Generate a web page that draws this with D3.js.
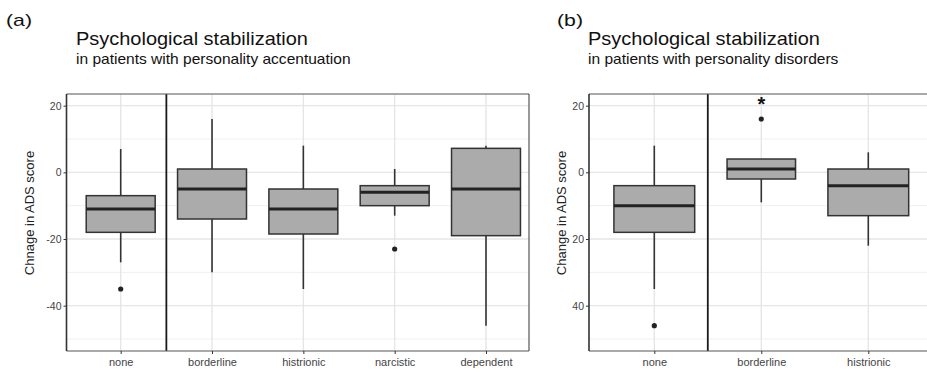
<!DOCTYPE html>
<html>
<head>
<meta charset="utf-8">
<script src="https://cdn.jsdelivr.net/npm/d3@7"></script>
<style>
  html, body { margin: 0; padding: 0; background: #fff; }
  svg { display: block; font-family: "Liberation Sans", Arial, sans-serif; }
</style>
</head>
<body>
<svg id="chart" width="927" height="371"></svg>
<script>
// panel (a): personality accentuation
const catsA = ['none', 'borderline', 'histrionic', 'narcistic', 'dependent'];
const statsA = [
  // [lowerWhisker, q1, median, q3, upperWhisker]
  [-27, -18, -11, -7, 7],
  [-30, -14, -5, 1, 16],
  [-35, -18.5, -11, -5, 8],
  [-13, -10, -6, -4, 1],
  [-46, -19, -5, 7.2, 8]
];
const outliersA = [[-35], [], [], [-23], []];
const tickValsA = [20, 0, -20, -40];
const tickLabelsA = ['20', '0', '-20', '-40'];

// panel (b): personality disorders
const catsB = ['none', 'borderline', 'histrionic'];
const statsB = [
  [-35, -18, -10, -4, 8],
  [-9, -2, 1, 4, 4],
  [-22, -13, -4, 1, 6]
];
const outliersB = [[-46], [16], []];
const tickValsB = [20, 0, -20, -40];
const tickLabelsB = ['20', '0', '20', '40'];   // as printed in the figure
const starB = ['', '*', ''];

const svg = d3.select('#chart');

// stretched text helper (the figure's lettering is wider than Arial)
function wideText(g, x, y, size, sx, txt) {
  return g.append('text')
    .attr('transform', `translate(${x},${y}) scale(${sx},1)`)
    .attr('font-size', size).attr('fill', '#111').text(txt);
}

function drawPanel(o) {
  const g = svg.append('g');
  const y = d3.scaleLinear().domain([-53.6, 23.5]).range([o.bottom, o.top]);
  const x = d3.scalePoint().domain(o.cats).range([o.x0, o.x1]);
  const step = x.step();

  // grid
  const minor = [-50, -30, -10, 10];
  g.selectAll('.minor').data(minor).join('line')
    .attr('x1', o.left).attr('x2', o.right)
    .attr('y1', d => y(d)).attr('y2', d => y(d))
    .attr('stroke', '#f0f0f0').attr('stroke-width', 1);
  g.selectAll('.major').data(o.tickVals).join('line')
    .attr('x1', o.left).attr('x2', o.right)
    .attr('y1', d => y(d)).attr('y2', d => y(d))
    .attr('stroke', '#e6e6e6').attr('stroke-width', 1.4);
  g.selectAll('.vgrid').data(o.cats).join('line')
    .attr('x1', d => x(d)).attr('x2', d => x(d))
    .attr('y1', o.top).attr('y2', o.bottom)
    .attr('stroke', '#e6e6e6').attr('stroke-width', 1.4);

  // separator between "none" and the rest
  const sep = (x(o.cats[0]) + x(o.cats[1])) / 2;
  g.append('line').attr('x1', sep).attr('x2', sep)
    .attr('y1', o.top).attr('y2', o.bottom)
    .attr('stroke', '#1a1a1a').attr('stroke-width', 1.8);

  // boxes
  o.stats.forEach((s, i) => {
    const cx = x(o.cats[i]);
    const w = step * o.widths[i];
    const [lo, q1, med, q3, hi] = s;
    g.append('line').attr('x1', cx).attr('x2', cx)
      .attr('y1', y(hi)).attr('y2', y(q3))
      .attr('stroke', '#333').attr('stroke-width', 1.6);
    g.append('line').attr('x1', cx).attr('x2', cx)
      .attr('y1', y(q1)).attr('y2', y(lo))
      .attr('stroke', '#333').attr('stroke-width', 1.6);
    g.append('rect')
      .attr('x', cx - w / 2).attr('y', y(q3))
      .attr('width', w).attr('height', y(q1) - y(q3))
      .attr('fill', '#ababab').attr('stroke', '#333').attr('stroke-width', 1.5);
    g.append('line').attr('x1', cx - w / 2).attr('x2', cx + w / 2)
      .attr('y1', y(med)).attr('y2', y(med))
      .attr('stroke', '#222').attr('stroke-width', 3);
    o.outliers[i].forEach(v => {
      g.append('circle').attr('cx', cx).attr('cy', y(v)).attr('r', 2.6).attr('fill', '#222');
    });
    if (o.stars && o.stars[i]) {
      g.append('text').attr('x', cx).attr('y', y(18.4))
        .attr('text-anchor', 'middle').attr('font-size', 20).attr('font-weight', 'bold')
        .attr('fill', '#111').text(o.stars[i]);
    }
  });

  // frame
  g.append('line').attr('x1', o.left).attr('x2', o.right).attr('y1', o.top).attr('y2', o.top)
    .attr('stroke', '#555').attr('stroke-width', 1.2);
  g.append('line').attr('x1', o.left).attr('x2', o.right).attr('y1', o.bottom).attr('y2', o.bottom)
    .attr('stroke', '#555').attr('stroke-width', 1.2);
  g.append('line').attr('x1', o.left).attr('x2', o.left).attr('y1', o.top).attr('y2', o.bottom)
    .attr('stroke', '#333').attr('stroke-width', 1.6);
  if (o.right < 927) {
    g.append('line').attr('x1', o.right).attr('x2', o.right).attr('y1', o.top).attr('y2', o.bottom)
      .attr('stroke', '#555').attr('stroke-width', 1.2);
  }

  // y axis
  const yAxis = d3.axisLeft(y).tickValues(o.tickVals).tickSize(3).tickPadding(2)
    .tickFormat((d, i) => o.tickLabels[i]);
  g.append('g').attr('transform', `translate(${o.left},0)`).call(yAxis)
    .call(a => a.select('.domain').remove())
    .call(a => a.selectAll('line').attr('stroke', '#333'))
    .call(a => a.selectAll('text').attr('font-size', 10.5).attr('fill', '#444')
      .attr('font-family', '"Liberation Sans", Arial, sans-serif'));

  // x axis
  const xAxis = d3.axisBottom(x).tickSize(3).tickPadding(4);
  g.append('g').attr('transform', `translate(0,${o.bottom})`).call(xAxis)
    .call(a => a.select('.domain').remove())
    .call(a => a.selectAll('line').attr('stroke', '#333'))
    .call(a => a.selectAll('text').attr('font-size', 11).attr('fill', '#444')
      .attr('font-family', '"Liberation Sans", Arial, sans-serif'));

  // y label
  g.append('text')
    .attr('transform', `translate(${o.ylabX},213) rotate(-90)`)
    .attr('text-anchor', 'middle').attr('font-size', 13).attr('fill', '#222')
    .text(o.ylab);

  // titles
  wideText(g, o.tagX, 26, 17, 1.25, o.tag);
  wideText(g, o.titleX, 45, 18, 1.11, 'Psychological stabilization');
  wideText(g, o.titleX, 64, 14, 1.11, o.subtitle);
}

drawPanel({
  cats: catsA, stats: statsA, outliers: outliersA,
  tickVals: tickValsA, tickLabels: tickLabelsA,
  widths: [0.755, 0.755, 0.755, 0.755, 0.755],
  left: 66.5, right: 529, top: 94, bottom: 351, x0: 120.7, x1: 486,
  ylab: 'Chnage in ADS score', ylabX: 34,
  tag: '(a)', tagX: 6, titleX: 76,
  subtitle: 'in patients with personality accentuation'
});

drawPanel({
  cats: catsB, stats: statsB, outliers: outliersB, stars: starB,
  tickVals: tickValsB, tickLabels: tickLabelsB,
  widths: [0.755, 0.64, 0.755],
  left: 589, right: 935, top: 94, bottom: 351, x0: 654.3, x1: 868.3,
  ylab: 'Change in ADS score', ylabX: 566,
  tag: '(b)', tagX: 557, titleX: 588,
  subtitle: 'in patients with personality disorders'
});
</script>
</body>
</html>
